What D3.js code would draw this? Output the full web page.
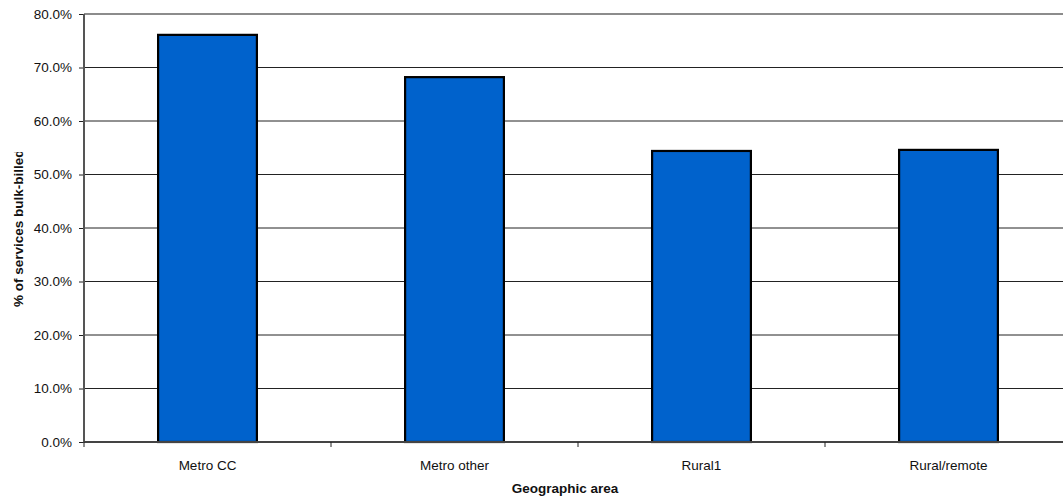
<!DOCTYPE html>
<html>
<head>
<meta charset="utf-8">
<script src="https://cdn.jsdelivr.net/npm/d3@7"></script>
<style>
  html, body { margin: 0; padding: 0; background: #fff; }
  svg { display: block; font-family: "Liberation Sans", Arial, sans-serif; }
</style>
</head>
<body>
<svg id="chart" width="1063" height="497"></svg>
<script>
// Share of services bulk-billed by geographic area
const categories = ["Metro CC", "Metro other", "Rural1", "Rural/remote"];
const values = [0.761, 0.682, 0.544, 0.546];
const yTicks = [0, 0.1, 0.2, 0.3, 0.4, 0.5, 0.6, 0.7, 0.8];
const yTitle = "% of services bulk-billed";
const xTitle = "Geographic area";

const svg = d3.select("#chart");
const plot = { left: 84, right: 1072, top: 14, bottom: 442 };

const x = d3.scaleBand()
  .domain(categories)
  .range([plot.left, plot.right])
  .paddingInner(0.6)
  .paddingOuter(0.3);

const y = d3.scaleLinear()
  .domain([0, 0.8])
  .range([plot.bottom, plot.top]);

const fmt = d3.format(".1%");

// horizontal gridlines
svg.append("g")
  .selectAll("line")
  .data(yTicks.filter(d => d > 0 && d < 0.8))
  .join("line")
  .attr("x1", plot.left).attr("x2", plot.right)
  .attr("y1", d => y(d)).attr("y2", d => y(d))
  .attr("stroke", "#222").attr("stroke-width", 1);

// top border of plot area
svg.append("line")
  .attr("x1", plot.left).attr("x2", plot.right)
  .attr("y1", y(0.8)).attr("y2", y(0.8))
  .attr("stroke", "#8c8c8c").attr("stroke-width", 2);

// bars
svg.append("g")
  .selectAll("rect")
  .data(categories)
  .join("rect")
  .attr("x", d => x(d))
  .attr("width", x.bandwidth())
  .attr("y", (d, i) => y(values[i]))
  .attr("height", (d, i) => y(0) - y(values[i]))
  .attr("fill", "#0062CC")
  .attr("stroke", "#000")
  .attr("stroke-width", 2.2);

// y axis
const yAxis = d3.axisLeft(y)
  .tickValues(yTicks)
  .tickFormat(fmt)
  .tickSize(5)
  .tickPadding(7);
const gy = svg.append("g")
  .attr("transform", `translate(${plot.left},0)`)
  .call(yAxis);
gy.select(".domain").remove();
gy.selectAll(".tick line").attr("stroke", "#222");
gy.selectAll("text")
  .attr("fill", "#111")
  .style("font-size", "13.5px");
svg.append("line")
  .attr("x1", plot.left).attr("x2", plot.left)
  .attr("y1", plot.top).attr("y2", plot.bottom + 1)
  .attr("stroke", "#555").attr("stroke-width", 2);

// x axis with ticks at category boundaries
const gx = svg.append("g")
  .attr("transform", `translate(0,${plot.bottom})`)
  .call(d3.axisBottom(x).tickSize(0).tickPadding(18));
gx.select(".domain").remove();
gx.selectAll("text")
  .attr("fill", "#111")
  .style("font-size", "13.5px");
svg.append("line")
  .attr("x1", plot.left).attr("x2", plot.right)
  .attr("y1", plot.bottom).attr("y2", plot.bottom)
  .attr("stroke", "#444").attr("stroke-width", 2);
const step = x.step();
const bounds = d3.range(categories.length + 1).map(i => x(categories[0]) - x.paddingOuter() * step + i * step);
svg.append("g")
  .selectAll("line")
  .data(bounds)
  .join("line")
  .attr("x1", d => d).attr("x2", d => d)
  .attr("y1", plot.bottom).attr("y2", plot.bottom + 5)
  .attr("stroke", "#222").attr("stroke-width", 1);

// axis titles (the vertical one is cut off by its text box)
svg.append("defs").append("clipPath").attr("id", "ytitle-clip")
  .append("rect").attr("x", 0).attr("y", 152).attr("width", 40).attr("height", 345);
svg.append("g")
  .attr("clip-path", "url(#ytitle-clip)")
  .append("text")
  .attr("transform", "translate(23,307) rotate(-90)")
  .attr("text-anchor", "start")
  .attr("font-weight", "bold")
  .style("font-size", "13.5px")
  .attr("fill", "#111")
  .text(yTitle);

svg.append("text")
  .attr("x", 565).attr("y", 493)
  .attr("text-anchor", "middle")
  .attr("font-weight", "bold")
  .style("font-size", "13.5px")
  .attr("fill", "#111")
  .text(xTitle);
</script>
</body>
</html>
